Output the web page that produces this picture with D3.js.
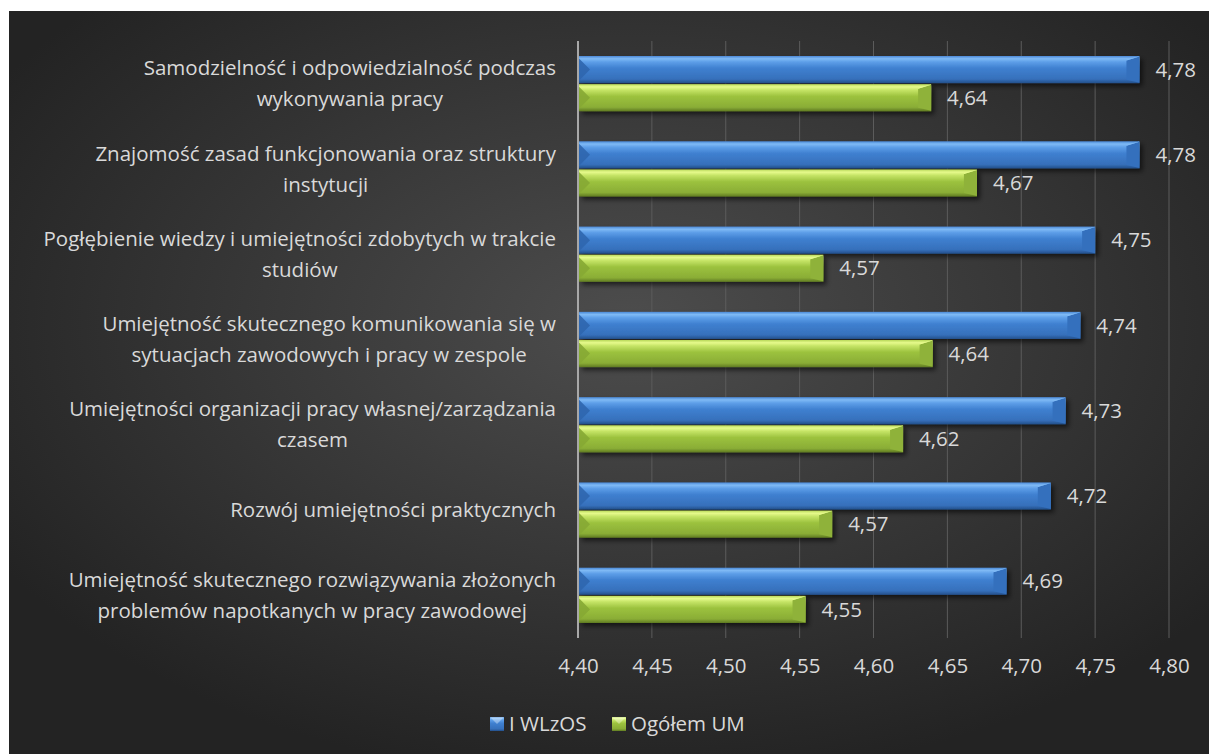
<!DOCTYPE html>
<html><head><meta charset="utf-8">
<script src="https://cdn.jsdelivr.net/npm/d3@7"></script>
<style>html,body{margin:0;padding:0;background:#fff;}svg{display:block;}</style>
</head><body>
<svg id="c" width="1209" height="754"></svg>
<script>
const categories = [
  ["Samodzielność i odpowiedzialność podczas", "wykonywania pracy"],
  ["Znajomość zasad funkcjonowania oraz struktury", "instytucji"],
  ["Pogłębienie wiedzy i umiejętności zdobytych w trakcie", "studiów"],
  ["Umiejętność skutecznego komunikowania się w", "sytuacjach zawodowych i pracy w zespole"],
  ["Umiejętności organizacji pracy własnej/zarządzania", "czasem"],
  ["Rozwój umiejętności praktycznych"],
  ["Umiejętność skutecznego rozwiązywania złożonych", "problemów napotkanych w pracy zawodowej"]
];
const seriesNames = ["I WLzOS", "Ogółem UM"];
const wlzos = [4.78, 4.78, 4.75, 4.74, 4.73, 4.72, 4.69];
const ogolem = [4.639, 4.67, 4.566, 4.64, 4.62, 4.572, 4.554];
const ticks = [4.40, 4.45, 4.50, 4.55, 4.60, 4.65, 4.70, 4.75, 4.80];

(function(){
const svg = d3.select("#c");
const defs = svg.append("defs");
const rg = defs.append("radialGradient").attr("id","bg").attr("cx","52%").attr("cy","42%").attr("r","62%");
rg.append("stop").attr("offset","0%").attr("stop-color","#4d4d4d");
rg.append("stop").attr("offset","100%").attr("stop-color","#232323");
function barGrad(id, c){
  const g = defs.append("linearGradient").attr("id",id).attr("x1",0).attr("y1",0).attr("x2",0).attr("y2",1);
  c.forEach(([o,col])=>g.append("stop").attr("offset",o).attr("stop-color",col));
}
barGrad("gBlue", [["0%","#4a88d6"],["10%","#7fbaf5"],["22%","#5d9ee8"],["45%","#3f80d0"],["85%","#3670bb"],["100%","#234f8a"]]);
barGrad("gGreen", [["0%","#b8d85a"],["10%","#e6fa8c"],["22%","#c5e466"],["45%","#9cc23e"],["85%","#8aad36"],["100%","#5f7a22"]]);
const sh = defs.append("filter").attr("id","sh").attr("x","-5%").attr("y","-30%").attr("width","115%").attr("height","180%");
sh.append("feDropShadow").attr("dx",3).attr("dy",3).attr("stdDeviation",2.5).attr("flood-color","#000").attr("flood-opacity",0.6);

svg.append("rect").attr("x",9).attr("y",11).attr("width",1200).attr("height",743).attr("fill","url(#bg)");

const plotTop = 41, plotBottom = 638;
const x = d3.scaleLinear().domain([4.40, 4.80]).range([578, 1169]);
const y = d3.scaleBand().domain(d3.range(categories.length)).range([plotTop, plotBottom]).paddingInner(0.34).paddingOuter(0.17);
const ys = d3.scaleBand().domain([0,1]).range([0, y.bandwidth()]);

svg.append("g").selectAll("line").data(ticks.slice(1)).join("line")
  .attr("x1",d=>x(d)).attr("x2",d=>x(d)).attr("y1",plotTop).attr("y2",plotBottom)
  .attr("stroke","#5c5c5c").attr("stroke-width",1);

const textCol = "#d9d9d9";
const font = "Open Sans, sans-serif";
const fs = 20.5;

const data = [];
categories.forEach((c,i)=>{
  data.push({i, s:0, v:wlzos[i]});
  data.push({i, s:1, v:ogolem[i]});
});
const bars = svg.append("g").selectAll("g").data(data).join("g")
  .attr("transform",d=>`translate(0,${y(d.i)+ys(d.s)})`);
const bh = ys.bandwidth();
bars.append("rect").attr("x",x(4.40)+1).attr("y",0.5).attr("width",d=>x(d.v)-x(4.40)-1).attr("height",bh-1)
  .attr("fill",d=>d.s===0?"url(#gBlue)":"url(#gGreen)").attr("filter","url(#sh)");
bars.append("path").attr("d",d=>{
  const x0 = x(4.40)+1, m = bh/2;
  return `M${x0},${3} L${x0+11},${m} L${x0},${bh-3} Z`;
}).attr("fill",d=>d.s===0?"#2f66ae":"#86a834").attr("opacity",0.9);
bars.append("path").attr("d",d=>{
  const x1 = x(d.v);
  return `M${x1},${1} L${x1-13},${5} L${x1-13},${bh-4} L${x1},${bh-1} Z`;
}).attr("fill",d=>d.s===0?"#3470bd":"#8fb23a");
bars.append("path").attr("d",d=>{
  const x1 = x(d.v);
  return `M${x1},${1} L${x1-13},${5} L${x1-13},${4} L${x1-1},${1} Z`;
}).attr("fill",d=>d.s===0?"#7fbaf5":"#e6fa8c");

const fmt = v => d3.format(".2f")(v).replace(".", ",");
bars.append("text").attr("x",d=>x(d.v)+16).attr("y",bh/2).attr("dy","0.35em")
  .attr("fill",textCol).attr("font-family",font).attr("font-size",fs).text(d=>fmt(d.v));

svg.append("line").attr("x1",x(4.40)).attr("x2",x(4.40)).attr("y1",plotTop).attr("y2",plotBottom)
  .attr("stroke","#a8a8a8").attr("stroke-width",2);

const ax = svg.append("g").attr("transform",`translate(0,${plotBottom})`)
  .call(d3.axisBottom(x).tickValues(ticks).tickSize(0).tickPadding(20).tickFormat(fmt));
ax.select(".domain").remove();
ax.selectAll("text").attr("fill",textCol).attr("font-family",font).attr("font-size",fs);

// category labels: block right-aligned at 556, lines centered within block
const lh = 31;
const labG = svg.append("g");
categories.forEach((lines,i)=>{
  const cy = y(i) + y.bandwidth()/2;
  const ts = lines.map((l,k)=> labG.append("text").attr("fill",textCol).attr("font-family",font).attr("font-size",fs)
      .attr("y", cy + (k - (lines.length-1)/2)*lh).attr("dy","0.35em").attr("text-anchor","middle").text(l));
  const w = d3.max(ts, t=>t.node().getComputedTextLength());
  ts.forEach(t=>t.attr("x", 556 - w/2));
});

const leg = svg.append("g");
const legItems = [{n:seriesNames[0], x:490, g:"url(#gBlue)"},{n:seriesNames[1], x:612, g:"url(#gGreen)"}];
legItems.forEach(it=>{
  leg.append("rect").attr("x",it.x).attr("y",717).attr("width",14).attr("height",14).attr("fill",it.g);
  leg.append("path").attr("d",`M${it.x},717 L${it.x+7},724 L${it.x+14},717 Z`).attr("fill","#ffffff").attr("opacity",0.35);
  leg.append("text").attr("x",it.x+19).attr("y",724).attr("dy","0.35em").attr("fill",textCol)
    .attr("font-family",font).attr("font-size",fs).text(it.n);
});
})();
</script>
</body></html>
